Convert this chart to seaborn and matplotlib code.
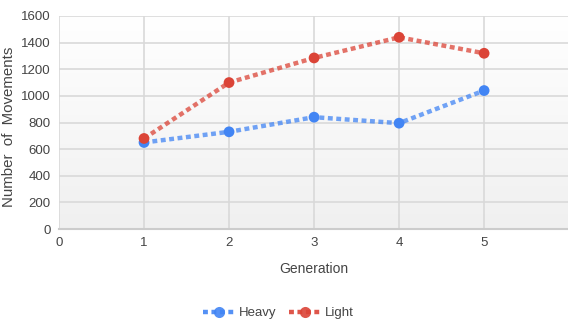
import numpy as np
import pandas as pd
import matplotlib
matplotlib.use("Agg")
import matplotlib.pyplot as plt
import seaborn as sns
from matplotlib.colors import LinearSegmentedColormap
from matplotlib.lines import Line2D

generations = [1, 2, 3, 4, 5]
heavy = [650, 730, 840, 795, 1040]
light = [680, 1100, 1285, 1440, 1320]
series_names = ["Heavy", "Light"]
colors = {"Heavy": "#4285F4", "Light": "#DB4437"}
x_ticks = [0, 1, 2, 3, 4, 5]
y_ticks = [0, 200, 400, 600, 800, 1000, 1200, 1400, 1600]

df = pd.DataFrame({
    "Generation": generations * 2,
    "Movements": heavy + light,
    "Series": ["Heavy"] * len(heavy) + ["Light"] * len(light),
})

sns.set_theme(style="white")
plt.rcParams["font.family"] = ["Liberation Sans", "DejaVu Sans"]

fig = plt.figure(figsize=(5.68, 3.23), dpi=100)
ax = fig.add_axes([59 / 568, 1 - 229 / 323, 1 - 59 / 568 + 0.002, (229 - 16) / 323])

# gradient background
cmap = LinearSegmentedColormap.from_list("bg", ["#f0f0f0", "#ffffff"])
ax.imshow(np.linspace(0, 1, 256).reshape(-1, 1), extent=[0, 6, 0, 1600], aspect="auto",
          cmap=cmap, origin="lower", zorder=0, vmin=0, vmax=1)

for s in series_names:
    sub = df[df["Series"] == s]
    sns.lineplot(data=sub, x="Generation", y="Movements", ax=ax, color=colors[s],
                 linewidth=3.2, alpha=0.75, zorder=3, legend=False)
    ax.lines[-1].set_dashes([1.1, 0.8])
    ax.lines[-1].set_dash_capstyle("butt")
    sns.scatterplot(data=sub, x="Generation", y="Movements", ax=ax, color=colors[s],
                    s=60, edgecolor="none", zorder=4, legend=False)

ax.set_xlim(0, 6)
ax.set_ylim(0, 1600)
ax.set_xticks(x_ticks)
ax.set_yticks(y_ticks)
ax.grid(True, color="#d9d9d9", linewidth=1.2, zorder=1)
for line in ax.get_xgridlines() + ax.get_ygridlines():
    line.set_zorder(1)
for sp in ["top", "right", "left"]:
    ax.spines[sp].set_visible(False)
ax.spines["bottom"].set_color("#cccccc")
ax.spines["bottom"].set_linewidth(1.5)
ax.tick_params(axis="both", length=0, labelsize=9.5, labelcolor="#444444", pad=6)
ax.set_xlabel("Generation", fontsize=10, color="#444444", labelpad=9)
ax.set_ylabel("Number  of  Movements", fontsize=10.8, color="#444444")
ax.yaxis.set_label_coords(-0.085, 0.48)

handles = []
for s in series_names:
    h = Line2D([0], [0], color=colors[s], linewidth=3.2, alpha=0.9, marker="o",
               markersize=8, markerfacecolor=colors[s], markeredgecolor="none")
    h.set_dashes([1.1, 0.8])
    handles.append(h)
fig.legend(handles, series_names, loc="center", bbox_to_anchor=(0.49, 0.03),
           ncol=2, frameon=False, fontsize=9.5, handlelength=2.4, columnspacing=1.0,
           handletextpad=0.3, labelcolor="#444444")

fig.savefig("out.png", dpi=100)
